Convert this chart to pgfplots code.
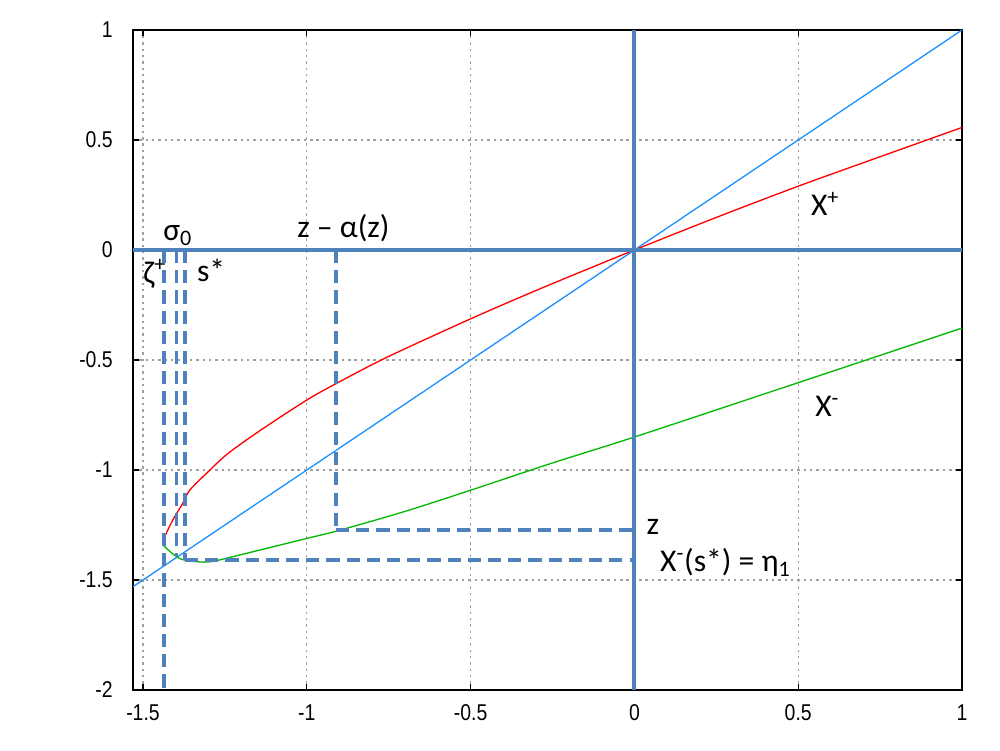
\documentclass[border=0pt]{standalone}
\usepackage{fontspec}
\usepackage{pgfplots}
\pgfplotsset{compat=1.18}
\setmainfont{Carlito}
\newfontfamily\tickfont[FakeStretch=0.85]{Liberation Sans}
\definecolor{dashblue}{RGB}{79,129,189}
\definecolor{curveblue}{RGB}{30,144,255}
\definecolor{curvered}{RGB}{255,0,0}
\definecolor{curvegreen}{RGB}{0,185,0}

\begin{document}
\begin{tikzpicture}[
  lab/.style={anchor=base west, inner sep=0pt, font=\fontsize{18}{21}\selectfont},
  dline/.style={dashblue, line width=1.9pt, dash pattern=on 7.5pt off 4pt},
]
\begin{axis}[
  width=16.58cm, height=13.2cm, scale only axis,
  xmin=-1.5305, xmax=1, ymin=-2, ymax=1,
  xtick={-1.5,-1,-0.5,0,0.5,1},
  xticklabels={-1.5,-1,-0.5,0,0.5,1},
  ytick={-2,-1.5,-1,-0.5,0,0.5,1},
  yticklabels={-2,-1.5,-1,-0.5,0,0.5,1},
  tick align=inside, major tick length=3.5pt,
  grid=major,
  grid style={gray!75, line width=0.6pt, dash pattern=on 1.4pt off 2.2pt},
  axis line style={black, line width=0.8pt},
  tick style={black, line width=0.8pt},
  tick label style={font=\tickfont\fontsize{13}{15}\selectfont},
  xticklabel style={yshift=-5pt},
  yticklabel style={xshift=-8pt},
  clip=false,
]
% y = x
\addplot[curveblue, line width=0.75pt] coordinates {(-1.5305,-1.5305) (1,1)};
% X+
\addplot[curvered, line width=0.75pt, smooth] coordinates {
  (-1.436,-1.31) (-1.410,-1.23) (-1.379,-1.152) (-1.357,-1.091) (-1.306,-1.015)
  (-1.240,-0.924) (-1.133,-0.811) (-1.0,-0.682) (-0.919,-0.614) (-0.756,-0.488)
  (-0.497,-0.311) (-0.278,-0.170) (0,0) (0.25,0.148) (0.5,0.29) (0.75,0.424) (1,0.557)
};
% X-
\addplot[curvegreen, line width=0.75pt, smooth] coordinates {
  (-1.436,-1.345) (-1.410,-1.38) (-1.382,-1.406) (-1.336,-1.417) (-1.290,-1.416)
  (-1.204,-1.386) (-1.0,-1.311) (-0.9,-1.274) (-0.7,-1.188) (-0.5,-1.092)
  (-0.25,-0.968) (0,-0.850) (0.5,-0.603) (1,-0.355)
};
% dashed construction lines
\addplot[dline] coordinates {(-1.436,0) (-1.436,-2)};
\addplot[dline] coordinates {(-1.397,0) (-1.397,-1.39)};
\addplot[dline] coordinates {(-1.372,0) (-1.372,-1.409)};
\addplot[dline] coordinates {(-1.372,-1.409) (0,-1.409)};
\addplot[dline] coordinates {(-0.911,0) (-0.911,-1.273)};
\addplot[dline] coordinates {(-0.911,-1.273) (0,-1.273)};
% coordinate axes
\addplot[dashblue, line width=2.2pt] coordinates {(-1.5305,0) (1,0)};
\addplot[dashblue, line width=2.2pt] coordinates {(0,-2) (0,1)};
% labels
\node[lab] at (axis cs:-1.439,0.042) {σ\textsubscript{0}};
\node[lab] at (axis cs:-1.50,-0.15) {ζ\textsuperscript{+}};
\node[lab] at (axis cs:-1.336,-0.145) {s*};
\node[lab] at (axis cs:-1.03,0.055) {z – α(z)};
\node[lab] at (axis cs:0.538,0.159) {X\textsuperscript{+}};
\node[lab] at (axis cs:0.551,-0.758) {X\textsuperscript{-}};
\node[lab] at (axis cs:0.036,-1.295) {z};
\node[lab] at (axis cs:0.0775,-1.462) {X\textsuperscript{-}(s*) = η\textsubscript{1}};
\end{axis}
\path (-2.66cm,-1.2cm) rectangle (17.34cm,13.8cm);
\end{tikzpicture}
\end{document}
